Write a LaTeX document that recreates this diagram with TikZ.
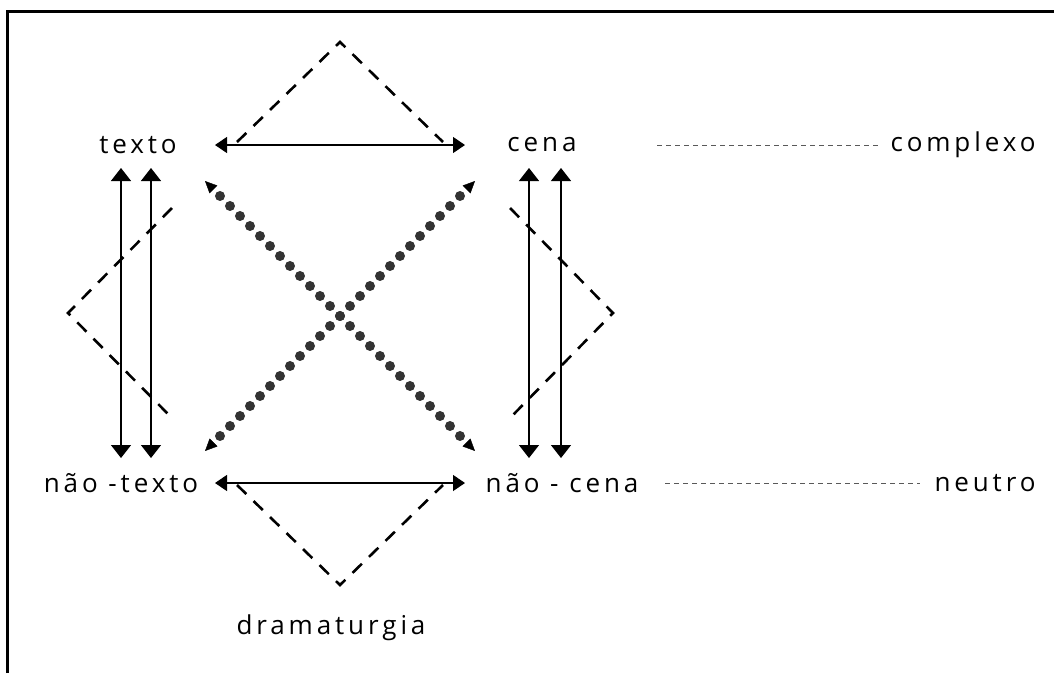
\documentclass[tikz,border=0pt]{standalone}
\usepackage{fontspec}
\setmainfont{Open Sans}[LetterSpace=15]
\usetikzlibrary{arrows.meta,decorations.markings}
\begin{document}
\begin{tikzpicture}[x=1pt,y=-1pt,
  lbl/.style={font=\fontsize{26}{30}\selectfont, inner sep=0pt, text=black},
  harr/.style={line width=1.3pt, {Triangle[length=12pt,width=16pt]}-{Triangle[length=12pt,width=16pt]}},
  varr/.style={line width=1.3pt, {Triangle[length=13pt,width=20pt]}-{Triangle[length=13pt,width=20pt]}},
  dashdiag/.style={line width=2.6pt, dash pattern=on 13pt off 10pt},
  guide/.style={line width=1pt, dash pattern=on 5pt off 4pt, black!65},
  dotarr/.style={postaction={decorate}, decoration={markings,
     mark=between positions 21.2pt and 361pt step 14.142pt with {\fill[black!80] (0,0) circle (5pt);},
     mark=at position 0 with {\arrowreversed{Triangle[length=12pt,width=11pt]}},
     mark=at position 1 with {\arrow{Triangle[length=12pt,width=11pt]}}}}
]
\useasboundingbox (0,0) rectangle (1054,673);
% frame
\draw[line width=3pt] (7,673) -- (7,11) -- (1054,11);

% labels
\node[lbl] (texto) at (138,145) {texto};
\node[lbl] (cena) at (542,145) {cena};
\node[lbl] (ntexto) at (121,483) {não -texto};
\node[lbl] (ncena) at (562,483) {não - cena};
\node[lbl] (complexo) at (963,145) {complexo};
\node[lbl] (neutro) at (985,483) {neutro};
\node[lbl] (drama) at (331,628) {dramaturgia};

% arrow end points
\coordinate (tl) at (215,145);
\coordinate (tr) at (465,145);
\coordinate (bl) at (215,483);
\coordinate (br) at (465,483);
\coordinate (l1t) at (121,168); \coordinate (l1b) at (121,458);
\coordinate (l2t) at (151,168); \coordinate (l2b) at (151,458);
\coordinate (r1t) at (529,168); \coordinate (r1b) at (529,458);
\coordinate (r2t) at (561,168); \coordinate (r2b) at (561,458);
\coordinate (d1s) at (205,181); \coordinate (d1e) at (475,451);
\coordinate (d2s) at (475,181); \coordinate (d2e) at (205,451);

% horizontal arrows
\draw[harr] (tl) -- (tr);
\draw[harr] (bl) -- (br);
% vertical arrows
\draw[varr] (l1t) -- (l1b);
\draw[varr] (l2t) -- (l2b);
\draw[varr] (r1t) -- (r1b);
\draw[varr] (r2t) -- (r2b);

% dotted diagonals
\path[dotarr] (d1s) -- (d1e);
\path[dotarr] (d2s) -- (d2e);

% dashed diamonds
\coordinate (topapex) at (340,42);
\coordinate (botapex) at (340,585);
\coordinate (leftapex) at (68,313);
\coordinate (rightapex) at (613,313);
\draw[dashdiag] (237,142) -- (topapex) -- (443,142);
\draw[dashdiag] (237,485) -- (botapex) -- (443,485);
\draw[dashdiag] (172,208) -- (leftapex) -- (172,418);
\draw[dashdiag] (510,208) -- (rightapex) -- (510,418);

% guide lines
\draw[guide, shorten >=9pt] (657,145) -- (complexo.west);
\draw[guide, shorten >=14pt] (665,483) -- (neutro.west);
\end{tikzpicture}
\end{document}
